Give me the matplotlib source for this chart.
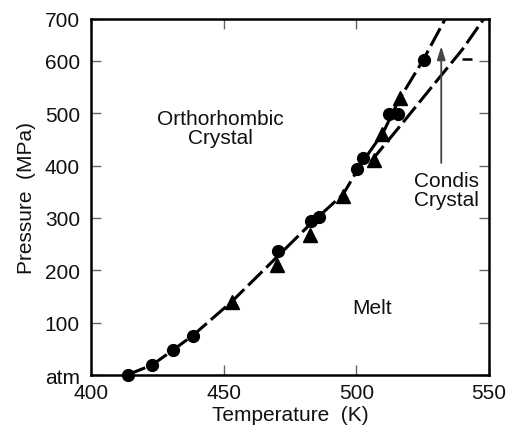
import numpy as np
import matplotlib
matplotlib.use("Agg")
import matplotlib.pyplot as plt

plt.rcParams["font.family"] = ["Liberation Sans", "DejaVu Sans"]

# measured points (K, MPa)
circle_T = [413.8, 423.1, 431.0, 438.3, 470.6, 483.1, 485.9, 500.4, 502.6, 512.4, 515.6, 525.5]
circle_P = [0, 19, 48, 75, 237, 294, 301, 394, 414, 499, 499, 601]
tri_T = [453.2, 470.0, 482.5, 495.0, 506.5, 509.5, 516.5]
tri_P = [140, 210, 267, 342, 410, 461, 530]

# boundary curves
upper_T = [413.5, 423, 431, 438.5, 453, 470, 483, 495, 502, 510, 516, 525, 533.5]
upper_P = [0, 19, 48, 76, 140, 225, 290, 345, 405, 462, 525, 600, 680]
lower_T = [505.5, 518, 530, 540, 548]
lower_P = [408, 485, 560, 622, 680]

x_ticks = [400, 450, 500, 550]
y_ticks = [0, 100, 200, 300, 400, 500, 600, 680]
y_labels = ["atm", "100", "200", "300", "400", "500", "600", "700"]

FS = 15

fig = plt.figure(figsize=(5.07, 4.31), dpi=100)
ax = fig.add_axes([0.1795, 0.1276, 0.785, 0.826])

ax.plot(upper_T, upper_P, color="black", lw=2.2, dashes=(6.5, 1.8),
        dash_capstyle="butt")
ax.plot(lower_T, lower_P, color="black", lw=2.2, dashes=(6.5, 1.8),
        dash_capstyle="butt")
ax.plot(circle_T, circle_P, "o", color="black", ms=8.5, clip_on=False)
ax.plot(tri_T, tri_P, "^", color="black", ms=9.5, clip_on=False)

# small stray dash by the right axis at 600
ax.plot([539.8, 543.6], [604, 604], color="black", lw=1.8, solid_capstyle="butt")

ax.annotate("", xy=(532, 628), xytext=(532, 405),
            arrowprops=dict(arrowstyle="-|>,head_length=0.8,head_width=0.25",
                            color="#444444", lw=1.3, shrinkA=0, shrinkB=0))

ax.text(448.6, 471, "Orthorhombic\nCrystal", ha="center", va="center",
        fontsize=FS, linespacing=1.0, color="#111111")
ax.text(505.8, 128, "Melt", ha="center", va="center", fontsize=FS, color="#111111")
ax.text(533.8, 354, "Condis\nCrystal", ha="center", va="center",
        fontsize=FS, linespacing=1.0, color="#111111")

ax.set_xlim(400, 550)
ax.set_ylim(0, 680)
ax.set_xticks(x_ticks)
ax.set_yticks(y_ticks)
ax.set_yticklabels(y_labels)
ax.tick_params(direction="in", top=True, right=True, length=7, width=1,
               color="#666666", labelsize=FS, labelcolor="#111111")
ax.tick_params(axis="y", pad=8)
ax.tick_params(axis="x", pad=6)
for s in ax.spines.values():
    s.set_linewidth(1.8)

ax.set_xlabel("Temperature  (K)", fontsize=FS, color="#111111", labelpad=2)
ax.set_ylabel("Pressure  (MPa)", fontsize=FS, color="#111111", labelpad=6)

fig.savefig("out.png", dpi=100)
